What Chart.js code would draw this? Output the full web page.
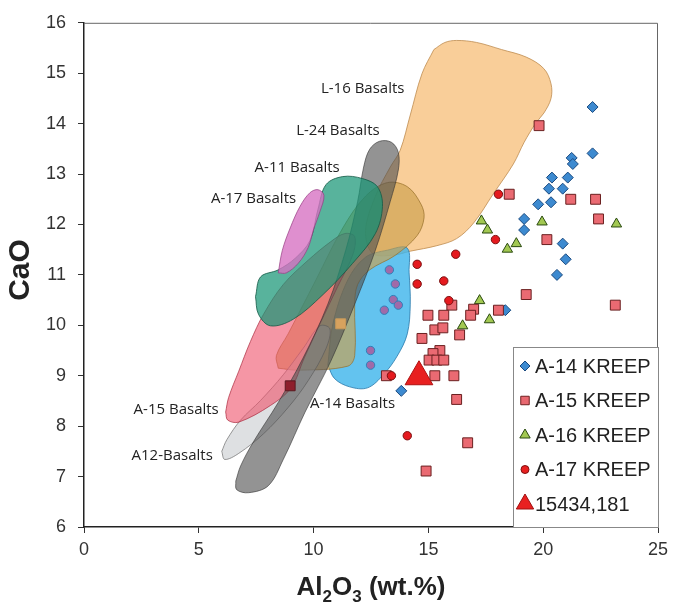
<!DOCTYPE html>
<html>
<head>
<meta charset="utf-8">
<script src="https://cdn.jsdelivr.net/npm/chart.js@4.4.1/dist/chart.umd.min.js"></script>
<style>
html, body { margin: 0; padding: 0; background: #fff; }
</style>
</head>
<body>
<canvas id="cao-chart" width="675" height="614"></canvas>
<script>
// ticks
const xTickValues = [0, 5, 10, 15, 20, 25];
const yTickValues = [6, 7, 8, 9, 10, 11, 12, 13, 14, 15, 16];

// KREEP samples, [Al2O3, CaO]
const a14Kreep = [[22.15,14.33],[22.15,13.41],[21.24,13.32],[21.29,13.20],[20.38,12.93],[21.07,12.93],[20.25,12.71],[20.85,12.71],[19.78,12.40],[20.34,12.44],[19.17,12.11],[19.17,11.89],[20.85,11.62],[20.98,11.31],[20.60,11.00],[18.35,10.30],[13.82,8.70]];
const a15Kreep = [[19.82,13.96],[18.52,12.60],[21.20,12.50],[22.28,12.50],[22.41,12.11],[20.16,11.70],[19.26,10.61],[23.14,10.40],[18.05,10.30],[16.02,10.40],[16.97,10.32],[16.84,10.20],[14.98,10.20],[15.67,10.20],[15.28,9.91],[15.63,9.95],[16.36,9.81],[14.72,9.74],[15.50,9.50],[15.20,9.44],[15.03,9.31],[15.37,9.31],[15.67,9.31],[15.28,9.00],[16.11,9.00],[13.17,9.00],[16.23,8.53],[16.71,7.67],[14.90,7.11]];
const a15Shaded = [[11.18,10.03],[8.98,8.80]]; // squares seen through the basalt fields
const a16Kreep = [[17.31,12.07],[17.57,11.89],[19.95,12.05],[23.19,12.01],[18.83,11.62],[18.44,11.51],[17.23,10.49],[17.66,10.11],[16.49,9.99]];
const a17Kreep = [[18.05,12.60],[17.92,11.70],[16.19,11.41],[14.51,11.21],[14.51,10.82],[15.67,10.88],[15.89,10.49],[13.39,9.00],[14.08,7.81]];
const a17Shaded = [[13.30,11.10],[13.56,10.82],[13.47,10.51],[13.69,10.40],[13.08,10.30],[12.48,9.50],[12.48,9.21]]; // under the A-14 field
const sample15434 = [[14.59,8.98]];

// basalt fields (outlines)
const l16Basalts = [[15.24,15.47],[15.72,15.61],[16.23,15.65],[17.10,15.61],[18.18,15.47],[19.26,15.32],[20.03,15.09],[20.34,14.79],[20.34,14.50],[20.03,14.21],[19.69,14.02],[19.17,13.63],[18.70,13.20],[17.83,12.61],[16.97,12.03],[16.23,11.72],[15.37,11.58],[14.21,11.47],[13.43,11.39],[12.56,11.43],[12.26,11.88],[12.69,12.56],[13.34,13.14],[13.77,13.47],[14.21,14.17],[14.72,14.99]];
const l24Basalts = [[6.61,6.91],[6.82,7.21],[7.38,7.69],[8.46,8.47],[9.54,9.35],[10.62,10.42],[11.40,11.49],[11.92,12.46],[12.18,13.14],[12.44,13.49],[12.87,13.65],[13.39,13.63],[13.69,13.43],[13.69,13.08],[13.34,12.46],[12.69,11.49],[11.79,10.42],[10.75,9.29],[9.63,8.28],[8.68,7.34],[8.03,6.82],[7.17,6.68],[6.65,6.74]];
const a11Basalts = [[7.47,10.57],[7.69,10.96],[8.46,11.10],[9.20,11.33],[9.84,11.68],[10.19,12.30],[10.54,12.79],[11.27,12.95],[12.13,12.91],[12.78,12.75],[13.00,12.36],[12.69,11.82],[11.70,11.23],[10.41,10.61],[9.11,10.12],[8.12,9.99],[7.60,10.22]];
const a17Basalts = [[8.46,11.04],[8.64,11.49],[8.98,11.93],[9.41,12.36],[9.84,12.63],[10.19,12.69],[10.45,12.58],[10.28,12.26],[10.02,11.93],[9.76,11.54],[9.33,11.23],[8.81,11.04]];
const a15Basalts = [[6.17,8.28],[6.30,8.57],[6.74,9.09],[7.25,9.68],[7.82,10.22],[8.68,10.81],[9.76,11.29],[10.75,11.66],[11.36,11.82],[11.79,11.76],[11.70,11.39],[11.05,10.77],[10.28,10.03],[9.59,9.35],[9.02,8.76],[8.12,8.41],[6.74,8.08],[6.26,8.12]];
const a12Basalts = [[6.00,7.50],[6.22,7.73],[6.82,8.12],[7.69,8.51],[8.68,9.02],[9.54,9.54],[10.28,9.99],[10.71,9.93],[10.54,9.54],[9.76,8.90],[8.89,8.37],[7.82,7.85],[6.74,7.46],[6.13,7.34]];
const tanField = [[8.46,9.15],[8.38,9.40],[8.89,9.83],[10.10,10.90],[11.27,11.93],[12.26,12.56],[13.21,12.83],[14.08,12.75],[14.68,12.40],[14.81,12.13],[14.51,11.78],[13.56,11.39],[12.44,11.10],[11.92,10.81],[11.79,10.42],[11.79,9.40],[11.49,9.19],[9.33,9.11]];
const a14Basalts = [[10.62,9.21],[10.84,10.03],[11.49,10.90],[12.26,11.35],[13.21,11.49],[14.08,11.53],[14.16,11.04],[14.21,10.42],[14.08,9.83],[13.64,9.39],[13.04,9.02],[12.35,8.76],[11.57,8.78],[10.92,8.94]];

// field labels: text and anchor (left edge, middle) in data units
const fieldLabels = [
    { text: "L-16 Basalts", at: [10.32, 14.70] },
    { text: "L-24 Basalts", at: [9.24, 13.86] },
    { text: "A-11 Basalts", at: [7.43, 13.12] },
    { text: "A-17 Basalts", at: [5.53, 12.52] },
    { text: "A-15 Basalts", at: [2.16, 8.32] },
    { text: "A12-Basalts", at: [2.07, 7.42] },
    { text: "A-14 Basalts", at: [9.84, 8.45] }
];

const legendItems = [
    { text: "A-14 KREEP", style: "rectRot", r: 5, fill: "#3d8ad0", line: "#1a4a80" },
    { text: "A-15 KREEP", style: "rect", r: 6, fill: "#e86870", line: "#702020" },
    { text: "A-16 KREEP", style: "triangle", r: 6, fill: "#a2c852", line: "#2a4a10" },
    { text: "A-17 KREEP", style: "circle", r: 4, fill: "#e82020", line: "#801010" },
    { text: "15434,181", style: "triangle", r: 10, fill: "#e82020", line: "#a01010" }
];

function field(label, pts, fillColor, lineColor, order) {
    return {
        type: "line",
        label: label,
        data: pts.concat([pts[0]]), // close the outline
        backgroundColor: fillColor,
        borderColor: lineColor,
        borderWidth: 1,
        fill: "shape",
        tension: 0.35,
        pointRadius: 0,
        order: order
    };
}

function samples(label, pts, style, r, fillColor, lineColor, order) {
    return {
        type: "scatter",
        label: label,
        data: pts,
        pointStyle: style,
        pointRadius: r,
        pointBackgroundColor: fillColor,
        pointBorderColor: lineColor,
        pointBorderWidth: 1,
        order: order
    };
}

function drawMarker(ctx, style, x, y, r) {
    ctx.beginPath();
    if (style === "circle") {
        ctx.arc(x, y, r, 0, Math.PI * 2);
    } else if (style === "rect") {
        const s = r * Math.SQRT1_2;
        ctx.rect(x - s, y - s, 2 * s, 2 * s);
    } else if (style === "rectRot") {
        ctx.moveTo(x, y - r); ctx.lineTo(x + r, y); ctx.lineTo(x, y + r); ctx.lineTo(x - r, y);
        ctx.closePath();
    } else {
        ctx.moveTo(x, y - r);
        ctx.lineTo(x + r * 0.866, y + r * 0.5);
        ctx.lineTo(x - r * 0.866, y + r * 0.5);
        ctx.closePath();
    }
    ctx.fill();
    ctx.stroke();
}

const decorPlugin = {
    id: "decor",
    afterDraw(chart) {
        const { ctx, chartArea: a, scales } = chart;
        ctx.save();

        // frame on top and right
        ctx.strokeStyle = "#666";
        ctx.lineWidth = 1;
        ctx.beginPath();
        ctx.moveTo(a.left, a.top + 0.5);
        ctx.lineTo(a.right - 0.5, a.top + 0.5);
        ctx.lineTo(a.right - 0.5, a.bottom);
        ctx.stroke();

        // field names
        ctx.font = '15px "Open Sans"';
        ctx.fillStyle = "#222";
        ctx.textAlign = "left";
        ctx.textBaseline = "middle";
        fieldLabels.forEach(l => {
            ctx.fillText(l.text, scales.x.getPixelForValue(l.at[0]), scales.y.getPixelForValue(l.at[1]));
        });

        // legend box in the lower right corner
        const bx = a.right - 145, by = a.bottom - 180;
        ctx.fillStyle = "#fff";
        ctx.fillRect(bx, by, a.right - bx, a.bottom - by);
        ctx.strokeStyle = "#888";
        ctx.strokeRect(bx + 0.5, by + 0.5, a.right - bx, a.bottom - by);
        ctx.font = '20px "Liberation Sans", Arial';
        legendItems.forEach((item, i) => {
            const ly = by + 19 + i * 34.5;
            ctx.fillStyle = item.fill;
            ctx.strokeStyle = item.line;
            drawMarker(ctx, item.style, bx + 12, ly, item.r);
            ctx.fillStyle = "#222";
            ctx.fillText(item.text, bx + 22, ly + 1);
        });

        // axis titles
        ctx.fillStyle = "#222";
        ctx.save();
        ctx.translate(21, 270);
        ctx.rotate(-Math.PI / 2);
        ctx.textAlign = "center";
        ctx.font = 'bold 30px "Liberation Sans", Arial';
        ctx.fillText("CaO", 0, 0);
        ctx.restore();

        // Al2O3 (wt.%) with subscripts
        const big = 'bold 26px "Liberation Sans", Arial';
        const small = 'bold 17px "Liberation Sans", Arial';
        const parts = [["Al", big, 0], ["2", small, 7], ["O", big, 0], ["3", small, 7], [" (wt.%)", big, 0]];
        let total = 0;
        parts.forEach(p => { ctx.font = p[1]; total += ctx.measureText(p[0]).width; });
        let tx = (a.left + a.right) / 2 - total / 2;
        ctx.textAlign = "left";
        ctx.textBaseline = "alphabetic";
        parts.forEach(p => {
            ctx.font = p[1];
            ctx.fillText(p[0], tx, 595 + p[2]);
            tx += ctx.measureText(p[0]).width;
        });
        ctx.restore();
    }
};

const canvas = document.getElementById("cao-chart");

new Chart(canvas, {
    type: "scatter",
    data: {
        datasets: [
            samples("15434,181", sample15434, "triangle", 16, "#e82020", "#b01010", 0),
            samples("A-17 KREEP", a17Kreep, "circle", 4.2, "#e51a1f", "#7a1010", 1),
            samples("A-15 KREEP", a15Kreep, "rect", 7, "#ea6a72", "#6a2020", 2),
            samples("A-16 KREEP", a16Kreep, "triangle", 6, "#a2c852", "#2a4a10", 3),
            samples("A-14 KREEP", a14Kreep, "rectRot", 5.5, "#3d8ad0", "#1a4a80", 4),
            samples("A-17 shaded", a17Shaded, "circle", 4.2, "#a06aa8", "#2f7fb8", 5),
            samples("A-15 shaded", a15Shaded, "rect", 7, ["#d8a25e", "#8e1f2c"], ["#c89a5a", "#5a1a20"], 5),
            field("A-17 Basalts", a17Basalts, "rgba(215,115,195,0.8)", "rgba(150,60,130,0.7)", 9),
            field("A-11 Basalts", a11Basalts, "rgba(24,150,118,0.72)", "rgba(20,90,70,0.8)", 10),
            field("L-24 Basalts", l24Basalts, "rgba(80,80,80,0.62)", "rgba(50,50,50,0.6)", 11),
            field("A-15 Basalts", a15Basalts, "rgba(238,80,105,0.6)", "rgba(170,40,60,0.7)", 13),
            field("A12-Basalts", a12Basalts, "rgba(200,204,206,0.6)", "rgba(110,110,110,0.7)", 14),
            field("tan field", tanField, "rgba(205,160,75,0.65)", "rgba(150,110,40,0.7)", 15),
            field("A-14 Basalts", a14Basalts, "rgba(60,180,235,0.8)", "rgba(40,120,170,0.8)", 16),
            field("L-16 Basalts", l16Basalts, "rgba(247,185,110,0.7)", "rgba(190,140,80,0.8)", 17)
        ]
    },
    options: {
        responsive: false,
        animation: false,
        layout: { padding: { top: 13, right: 12, left: 0, bottom: 0 } },
        plugins: {
            legend: { display: false },
            tooltip: { enabled: false }
        },
        scales: {
            x: {
                type: "linear",
                min: 0,
                max: 25,
                afterBuildTicks: s => { s.ticks = xTickValues.map(v => ({ value: v })); },
                afterFit: s => { s.height = 87; },
                grid: { drawOnChartArea: false, drawTicks: true, tickLength: 6, color: "#333" },
                border: { display: true, color: "#222", width: 1.5 },
                ticks: { color: "#333", padding: 6, font: { family: '"Liberation Sans", Arial', size: 18 } }
            },
            y: {
                type: "linear",
                min: 6,
                max: 16,
                afterBuildTicks: s => { s.ticks = yTickValues.map(v => ({ value: v })); },
                afterFit: s => { s.width = 84; },
                grid: { drawOnChartArea: false, drawTicks: true, tickLength: 6, color: "#333" },
                border: { display: true, color: "#222", width: 1.5 },
                ticks: { color: "#333", padding: 12, font: { family: '"Liberation Sans", Arial', size: 18 } }
            }
        }
    },
    plugins: [decorPlugin]
});
</script>
</body>
</html>
